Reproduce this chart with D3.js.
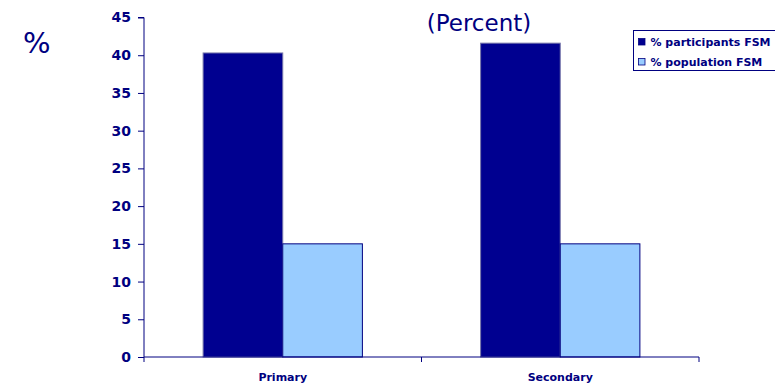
<!DOCTYPE html>
<html lang="en">
<head>
    <meta charset="UTF-8">
    <title>FSM participants</title>
    <script src="https://d3js.org/d3.v7.min.js"></script>
    <style type="text/css">
        body { margin: 0; background: #fff; }
        text { font-family: "DejaVu Sans", Verdana, sans-serif; fill: #000080; }
    </style>
</head>
<body>
    <div id="chartArea"></div>
    <script type="text/javascript">
        var categories = ['Primary', 'Secondary'];
        var seriesNames = ['% participants FSM', '% population FSM'];
        var participants = [40.3, 41.6];
        var population = [15, 15];
        var yTicks = [0, 5, 10, 15, 20, 25, 30, 35, 40, 45];
        var colors = ['#000090', '#99ccff'];

        var W = 775, H = 385;
        var margin = { top: 17.5, left: 144, right: 76, bottom: 28 };
        var w = W - margin.left - margin.right,
            h = H - margin.top - margin.bottom;

        var rows = categories.map(function (c, i) {
            return { cat: c, values: [participants[i], population[i]] };
        });

        var svg = d3.select('#chartArea').append('svg')
            .attr('width', W)
            .attr('height', H);

        var g = svg.append('g')
            .attr('transform', 'translate(' + margin.left + ',' + margin.top + ')');

        var x0 = d3.scaleBand().domain(categories).range([0, w]);
        var gap = x0.bandwidth() * 0.213;
        var x1 = d3.scaleBand().domain(d3.range(seriesNames.length))
            .range([gap, x0.bandwidth() - gap]);
        var y = d3.scaleLinear().domain([0, 45]).range([h, 0]);

        // bars
        var groups = g.selectAll('.grp')
            .data(rows)
            .enter().append('g')
            .attr('transform', function (d) { return 'translate(' + x0(d.cat) + ',0)'; });

        groups.selectAll('rect')
            .data(function (d) { return d.values; })
            .enter().append('rect')
            .attr('x', function (d, i) { return x1(i); })
            .attr('y', function (d) { return y(d); })
            .attr('width', x1.bandwidth())
            .attr('height', function (d) { return h - y(d); })
            .attr('fill', function (d, i) { return colors[i]; })
            .attr('stroke', function (d, i) { return i == 0 ? '#7777aa' : '#000080'; })
            .attr('stroke-width', 1);

        // y axis
        var yAxis = g.append('g')
            .call(d3.axisLeft(y).tickValues(yTicks).tickSize(6).tickPadding(7));
        yAxis.selectAll('text')
            .style('font-size', '14px').style('font-weight', 'bold')
            .attr('fill', '#000080');
        yAxis.selectAll('line, path').attr('stroke', '#000080');
        yAxis.select('path').attr('d', 'M0,' + h + 'V0H-6');

        // x axis
        var xAxis = g.append('g')
            .attr('transform', 'translate(0,' + h + ')')
            .call(d3.axisBottom(x0).tickSize(0).tickPadding(16.5));
        xAxis.select('path').attr('stroke', '#000080').attr('d', 'M0,0H' + w);
        xAxis.selectAll('text')
            .style('font-size', '11px').style('font-weight', 'bold')
            .attr('fill', '#000080');
        xAxis.selectAll('.sep')
            .data([0, x0.bandwidth(), w])
            .enter().append('line')
            .attr('class', 'sep')
            .attr('x1', function (d) { return d; }).attr('x2', function (d) { return d; })
            .attr('y1', 0).attr('y2', 5)
            .attr('stroke', '#000080');

        // titles
        svg.append('text')
            .attr('x', 23).attr('y', 53)
            .style('font-size', '29px')
            .text('%');
        svg.append('text')
            .attr('x', 479).attr('y', 31)
            .attr('text-anchor', 'middle')
            .style('font-size', '23px')
            .text('(Percent)');

        // legend
        var legend = svg.append('g').attr('transform', 'translate(633.5,30.5)');
        legend.append('rect')
            .attr('x', 0).attr('y', 0)
            .attr('width', 150).attr('height', 40)
            .attr('fill', '#fff').attr('stroke', '#000080');
        var items = legend.selectAll('.item')
            .data(seriesNames)
            .enter().append('g')
            .attr('transform', function (d, i) { return 'translate(5,' + (8 + i * 20) + ')'; });
        items.append('rect')
            .attr('width', 6.5).attr('height', 6.5)
            .attr('fill', function (d, i) { return colors[i]; })
            .attr('stroke', '#000080').attr('stroke-width', 0.8);
        items.append('text')
            .attr('x', 12).attr('y', 7.5)
            .style('font-size', '11px').style('font-weight', 'bold')
            .text(function (d) { return d; });
    </script>
</body>
</html>
